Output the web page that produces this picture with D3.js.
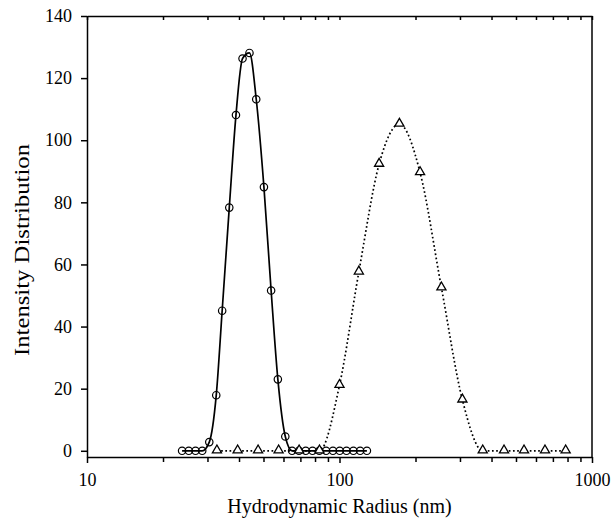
<!DOCTYPE html>
<html>
<head>
<meta charset="utf-8">
<script src="https://cdn.jsdelivr.net/npm/d3@7"></script>
<style>
  body { margin: 0; background: #fff; }
  svg { display: block; }
</style>
</head>
<body>
<div id="chart"></div>
<script>
// Data
const circleRadius = [23.8, 25.3, 26.9, 28.6, 30.5, 32.5, 34.3, 36.6, 38.9, 41.3, 44.0, 46.8, 50.2, 53.6,
                      57.0, 61.0, 64.9, 69.1, 73.5, 78.2, 83.2, 88.5, 94.2, 100.2, 106.6, 113.5, 120.7, 128.4];
const circleIntensity = [0, 0, 0, 0, 2.8, 17.9, 45.1, 78.3, 108.1, 126.3, 128.1, 113.2, 84.9, 51.6,
                         23.0, 4.6, 0, 0, 0, 0, 0, 0, 0, 0, 0, 0, 0, 0];
const triRadius = [32.7, 39.5, 47.6, 57.4, 69.2, 83.3, 100.0, 119.3, 143.5, 172.7, 208.5, 253.3,
                   306.7, 369.2, 448.3, 538, 651.3, 786.5];
const triIntensity = [0, 0, 0, 0, 0, 0, 21.1, 57.6, 92.3, 105.2, 89.6, 52.5, 16.4, 0, 0, 0, 0, 0];
const xMajor = [10, 100, 1000];
const xMinor = [20, 30, 40, 50, 60, 70, 80, 90, 200, 300, 400, 500, 600, 700, 800, 900];
const yTicks = [0, 20, 40, 60, 80, 100, 120, 140];

// Layout
const width = 611;
const height = 527;
const margin = {top: 16, right: 19, bottom: 70, left: 87};
const innerWidth = width - margin.left - margin.right;
const innerHeight = height - margin.top - margin.bottom;
const fontFamily = `"Liberation Serif", "Times New Roman", serif`;
const tickFont = `18px ${fontFamily}`;
const titleFont = `20px ${fontFamily}`;

const xScale = d3.scaleLog().domain([10, 1000]).range([0, innerWidth]);
const yScale = d3.scaleLinear().domain([-2, 140]).range([innerHeight, 0]);

const svg = d3.select(`#chart`)
    .append(`svg`)
        .attr(`width`, width)
        .attr(`height`, height);

const g = svg.append(`g`)
    .attr(`transform`, `translate(${margin.left},${margin.top})`);

// bottom axis: majors with labels, minors without
const xAxis = g.append(`g`)
    .attr(`transform`, `translate(0, ${innerHeight})`)
    .call(d3.axisBottom(xScale).tickValues(xMajor).tickFormat(d3.format(`d`)).tickSize(6).tickSizeOuter(0));
xAxis.append(`g`)
    .call(d3.axisBottom(xScale).tickValues(xMinor).tickFormat(``).tickSize(5).tickSizeOuter(0))
    .call(a => a.select(`.domain`).remove())
    .call(a => a.selectAll(`text`).remove());

// top frame with inward ticks
const xTop = g.append(`g`)
    .call(d3.axisBottom(xScale).tickValues(xMinor.concat(xMajor)).tickFormat(``).tickSize(4).tickSizeOuter(0))
    .call(a => a.selectAll(`text`).remove());

// right frame
g.append(`line`)
    .attr(`x1`, innerWidth).attr(`x2`, innerWidth)
    .attr(`y1`, 0).attr(`y2`, innerHeight)
    .attr(`stroke`, `#000`).attr(`stroke-width`, 1.5);

const yAxis = g.append(`g`)
    .call(d3.axisLeft(yScale).tickValues(yTicks).tickSize(6).tickSizeOuter(0));

[xAxis, xTop, yAxis].forEach(a => {
    a.selectAll(`.domain, line`).attr(`stroke`, `#000`).attr(`stroke-width`, 1.5);
    a.selectAll(`text`).style(`font`, tickFont).attr(`fill`, `#000`);
});
xAxis.selectAll(`.tick text`).attr(`y`, 16);
yAxis.selectAll(`.tick text`).attr(`x`, -15);

// axis titles
g.append(`text`)
    .attr(`x`, innerWidth / 2)
    .attr(`y`, innerHeight + 56)
    .attr(`text-anchor`, `middle`)
    .style(`font`, titleFont)
    .attr(`fill`, `#000`)
    .text(`Hydrodynamic Radius (nm)`);

g.append(`text`)
    .attr(`transform`, `rotate(-90)`)
    .attr(`x`, -(250 - margin.top))
    .attr(`y`, -58)
    .attr(`text-anchor`, `middle`)
    .attr(`textLength`, 212)
    .attr(`lengthAdjust`, `spacingAndGlyphs`)
    .style(`font`, titleFont)
    .attr(`fill`, `#000`)
    .text(`Intensity Distribution`);

// series
const circles = circleRadius.map((r, i) => ({r: r, v: circleIntensity[i]}));
const triangles = triRadius.map((r, i) => ({r: r, v: triIntensity[i]}));

const line = d3.line()
    .x(d => xScale(d.r))
    .y(d => yScale(d.v))
    .curve(d3.curveMonotoneX);

g.append(`path`)
    .datum(triangles)
    .attr(`d`, line)
    .attr(`fill`, `none`)
    .attr(`stroke`, `#000`)
    .attr(`stroke-width`, 1.7)
    .style(`stroke-dasharray`, `1.7,2.5`);

g.append(`path`)
    .datum(circles)
    .attr(`d`, line)
    .attr(`fill`, `none`)
    .attr(`stroke`, `#000`)
    .attr(`stroke-width`, 1.7);

g.selectAll(`.circlePt`)
    .data(circles)
    .enter()
    .append(`circle`)
    .attr(`class`, `circlePt`)
    .attr(`cx`, d => xScale(d.r))
    .attr(`cy`, d => yScale(d.v))
    .attr(`r`, 3.7)
    .attr(`fill`, `none`)
    .attr(`stroke`, `#000`)
    .attr(`stroke-width`, 1.2);

const tri = d3.symbol().type(d3.symbolTriangle).size(36);
g.selectAll(`.triPt`)
    .data(triangles)
    .enter()
    .append(`path`)
    .attr(`class`, `triPt`)
    .attr(`transform`, d => `translate(${xScale(d.r)},${yScale(d.v) - 0.5})`)
    .attr(`d`, tri)
    .attr(`fill`, `#fff`)
    .attr(`stroke`, `#000`)
    .attr(`stroke-width`, 1.3);
</script>
</body>
</html>
